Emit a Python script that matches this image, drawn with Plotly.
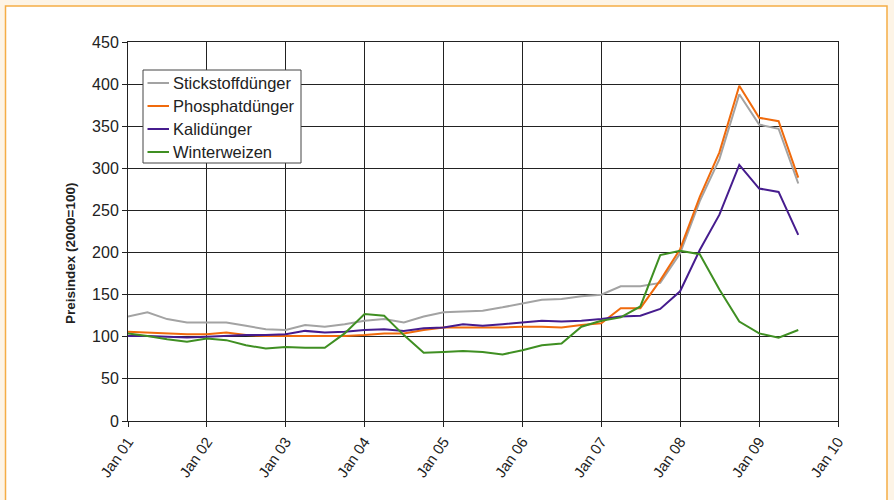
import plotly.graph_objects as go

# Quarterly observations, Jan 2001 - Jul 2009
dates = [f"{y}-{m:02d}-01" for y in range(2001, 2010) for m in (1, 4, 7, 10)][:35]

stickstoff = [124, 129, 121, 117, 117, 117, 113, 109, 108, 114, 112, 115,
              119, 121, 117, 124, 129, 130, 131, 135, 140, 144, 145, 148,
              150, 160, 160, 164, 199, 261, 311, 388, 352, 347, 282]
phosphat = [106, 105, 104, 103, 103, 105, 102, 101, 101, 101, 101, 101,
            102, 104, 104, 108, 111, 111, 111, 111, 112, 112, 111, 114,
            116, 134, 134, 167, 204, 266, 319, 398, 360, 356, 289]
kali = [101, 101, 100, 99, 100, 101, 102, 102, 103, 107, 105, 106,
        108, 109, 107, 110, 111, 115, 113, 115, 117, 119, 118, 119,
        121, 124, 125, 133, 154, 203, 245, 304, 276, 272, 221]
weizen = [104, 101, 97, 94, 98, 96, 90, 86, 88, 87, 87, 104,
          127, 125, 102, 81, 82, 83, 82, 79, 84, 90, 92, 112,
          119, 123, 136, 197, 202, 198, 156, 118, 104, 99, 108]

series = [
    ("Stickstoffdünger", stickstoff, "#a3a3a3"),
    ("Phosphatdünger", phosphat, "#f06a0c"),
    ("Kalidünger", kali, "#461c8e"),
    ("Winterweizen", weizen, "#3f8f22"),
]

font_family = "Liberation Sans, Arial, sans-serif"

# Plot-area geometry in pixels (used to place the legend box and title)
W, H = 894, 500
ML, MR, MT, MB = 128, 56, 42, 79
PW, PH = W - ML - MR, H - MT - MB


def px_x(px):
    return (px - ML) / PW


def px_y(py):
    return (H - MB - py) / PH


fig = go.Figure()
for name, vals, color in series:
    fig.add_trace(go.Scatter(x=dates, y=vals, name=name, mode="lines",
                             line=dict(color=color, width=2),
                             showlegend=False))

shapes = []
annotations = []

# Framed white panel on a cream page
shapes.append(dict(type="rect", xref="paper", yref="paper",
                   x0=px_x(5.5), x1=px_x(887), y0=px_y(520), y1=px_y(6),
                   fillcolor="white", line=dict(color="#f5ad45", width=1.5),
                   layer="below"))

# Legend box with short line keys
shapes.append(dict(type="rect", xref="paper", yref="paper",
                   x0=px_x(143), x1=px_x(301), y0=px_y(163), y1=px_y(70),
                   fillcolor="white", line=dict(color="#444444", width=1),
                   layer="above"))
for i, (name, _, color) in enumerate(series):
    yc = 83 + i * 23
    shapes.append(dict(type="line", xref="paper", yref="paper",
                       x0=px_x(147.5), x1=px_x(169), y0=px_y(yc), y1=px_y(yc),
                       line=dict(color=color, width=2), layer="above"))
    annotations.append(dict(xref="paper", yref="paper", x=px_x(171),
                            y=px_y(yc), text=name, showarrow=False,
                            xanchor="left", yanchor="middle",
                            font=dict(size=16.5, color="#222222")))

# Y-axis title
annotations.append(dict(xref="paper", yref="paper", x=px_x(70), y=px_y(254),
                        text="<b>Preisindex (2000=100)</b>", textangle=-90,
                        showarrow=False, xanchor="center", yanchor="middle",
                        font=dict(size=13.5, color="#222222")))

fig.update_layout(
    width=W, height=H,
    margin=dict(l=ML, r=MR, t=MT, b=MB),
    paper_bgcolor="#fdf4e6",
    plot_bgcolor="white",
    font=dict(family=font_family, size=16, color="#222222"),
    shapes=shapes,
    annotations=annotations,
    xaxis=dict(type="date", range=["2001-01-01", "2010-01-01"],
               tick0="2001-01-01", dtick="M12", tickformat="%b %y",
               tickangle=-55, ticks="outside", ticklen=5, tickcolor="#222",
               showgrid=True, gridcolor="#222222", gridwidth=1,
               showline=True, linecolor="#222222", linewidth=1,
               mirror=True, zeroline=False,
               tickfont=dict(size=15)),
    yaxis=dict(range=[0, 450], dtick=50, ticks="outside", ticklen=5,
               tickcolor="#222", showgrid=True, gridcolor="#222222",
               gridwidth=1, showline=True, linecolor="#222222",
               linewidth=1, mirror=True, zeroline=False,
               tickfont=dict(size=16)),
)

fig.write_html("out.html")
